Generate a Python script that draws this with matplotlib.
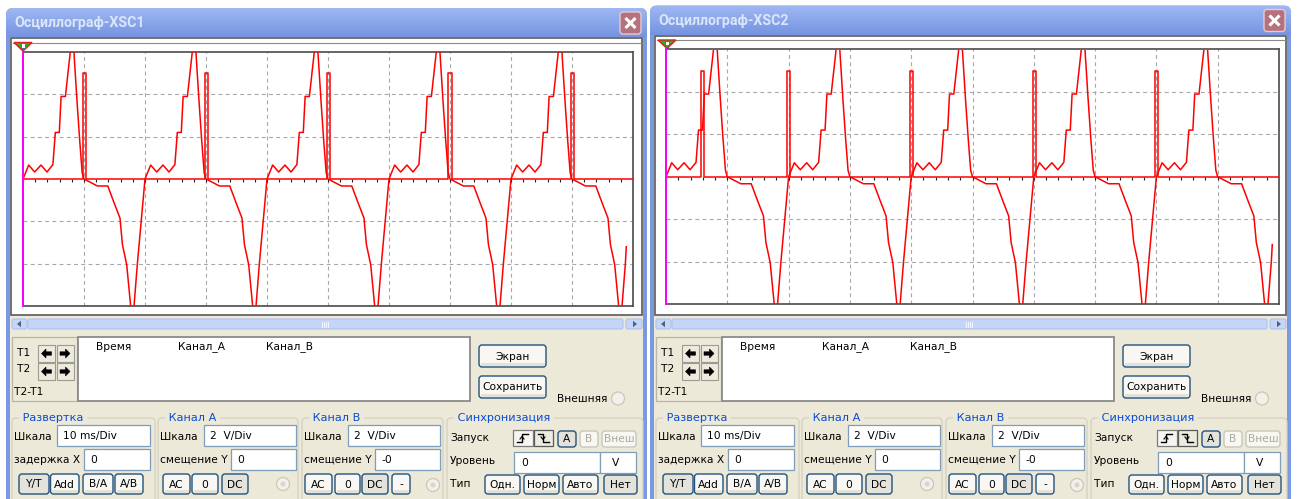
import numpy as np
import matplotlib
matplotlib.use("Agg")
import matplotlib.pyplot as plt
from matplotlib.patches import Rectangle, FancyBboxPatch, Circle, Polygon

# ---------------- data ----------------
# one 20 ms period of channel A (time in ms, voltage in V)
lobe_t = [0.0, 0.93, 1.91, 2.95, 3.93, 4.9, 5.3, 5.95, 6.25, 6.95, 7.75, 8.05, 8.35, 8.85, 9.3, 9.7,
          10.0, 12.2, 13.9, 14.9, 15.9, 16.3, 17.0, 17.65, 17.95, 18.2, 18.75]
lobe_v = [0.0, 0.66, 0.33, 0.66, 0.33, 0.68, 2.2, 2.2, 3.9, 3.9, 6.0, 7.0, 6.0, 3.7, 1.8, 0.3,
          0.0, -0.33, -0.33, -1.1, -1.85, -3.1, -4.05, -6.0, -6.8, -6.0, -4.0]
period_ms = 20.0
periods_shown = 5
trace_end_t = 98.9
trace_end_v = -3.2

# channel B pulses (ms) and level (V)
xsc1_pulse_on = [9.9, 29.8, 49.8, 69.7, 89.8]
xsc1_pulse_off = [10.4, 30.3, 50.3, 70.4, 90.4]
xsc2_pulse_on = [5.7, 19.8, 39.8, 59.8, 79.8]
xsc2_pulse_off = [6.2, 20.3, 40.3, 60.4, 80.3]
pulse_level = 5.0

titles = ["Осциллограф-XSC1", "Осциллограф-XSC2"]
readout_cols = ["Время", "Канал_A", "Канал_B"]
sweep_buttons = ["Y/T", "Add", "B/A", "A/B"]
chA_buttons = ["AC", "0", "DC"]
chB_buttons = ["AC", "0", "DC", "-"]
trig_src = ["A", "B", "Внеш"]
trig_type = ["Одн.", "Норм", "Авто", "Нет"]

# channel A trace built from the period read above
ta, va = [], []
for k in range(periods_shown):
    for t, v in zip(lobe_t, lobe_v):
        tt = t + k * period_ms
        if tt < trace_end_t:
            ta.append(tt)
            va.append(v)
ta.append(trace_end_t)
va.append(trace_end_v)

# ---------------- figure ----------------
W, H = 1301, 499
fig = plt.figure(figsize=(W / 100, H / 100), dpi=100)
fig.patch.set_facecolor("white")
bg = fig.add_axes([0, 0, 1, 1])
bg.set_xlim(0, W)
bg.set_ylim(H, 0)
bg.axis("off")

FONT = "DejaVu Sans"
FS = 7.7
BEIGE = "#ECE9D8"
FRAME = "#7B99E1"
BLUE_TXT = "#0A4BD6"


def R(x0, y0, x1, y1, fc="none", ec="none", lw=0.8, z=1, r=0):
    if r > 0:
        p = FancyBboxPatch((x0, y0), x1 - x0, y1 - y0,
                           boxstyle=f"round,pad=0,rounding_size={r}",
                           fc=fc, ec=ec, lw=lw, zorder=z)
    else:
        p = Rectangle((x0, y0), x1 - x0, y1 - y0, fc=fc, ec=ec, lw=lw, zorder=z)
    bg.add_patch(p)
    return p


def T(x, y, s, color="black", size=FS, ha="left", weight="normal", z=5, family=FONT, **kw):
    bg.text(x, y, s, color=color, fontsize=size, ha=ha, va="center",
            fontweight=weight, family=family, zorder=z, **kw)


def BTN(x0, y0, x1, y1, label, pressed=False, disabled=False, size=FS):
    ec = "#C9C7BA" if disabled else "#23527C"
    fc = "#E3E2DB" if pressed else "#F8F7F3"
    R(x0, y0, x1, y1, fc=fc, ec=ec, lw=1.0, z=3, r=3)
    if not pressed and not disabled:
        R(x0 + 1.5, y1 - 4, x1 - 1.5, y1 - 1.2, fc="#E4E2D6", z=3.1)
    T((x0 + x1) / 2, (y0 + y1) / 2 + 0.5, label,
      color="#ADAB9C" if disabled else "black", ha="center", size=size, z=4)


def TB(x0, y0, x1, y1, txt):
    R(x0, y0, x1, y1, fc="white", ec="#7F9DB9", lw=0.9, z=3)
    T(x0 + 6, (y0 + y1) / 2 + 0.5, txt, z=4)


def GROUP(x0, y0, x1, title):
    R(x0, y0, x1, 506, fc="none", ec="#D3D0C0", lw=0.9, z=2, r=4)
    T(x0 + 7, y0, " " + title + " ", color=BLUE_TXT, size=FS + 0.4, z=4,
      bbox=dict(fc=BEIGE, ec="none", pad=0.2))


def RADIO(cx, cy, dot=False):
    bg.add_patch(Circle((cx, cy), 6.5, fc="#F1F0EB", ec="#CBC8B8", lw=0.9, zorder=3))
    if dot:
        bg.add_patch(Circle((cx, cy), 2.5, fc="#D8D6CC", ec="none", zorder=3.1))


def ARROW(cx, cy, d):
    pts = [(cx + d * 5, cy), (cx + d * 0.5, cy - 4.5), (cx + d * 0.5, cy - 1.7),
           (cx - d * 5, cy - 1.7), (cx - d * 5, cy + 1.7), (cx + d * 0.5, cy + 1.7),
           (cx + d * 0.5, cy + 4.5)]
    bg.add_patch(Polygon(pts, closed=True, fc="black", ec="black", lw=0.4, zorder=5))


def draw_scope(box, pon, poff):
    x0, y0, x1, y1 = box
    ax = fig.add_axes([x0 / W, 1 - y1 / H, (x1 - x0) / W, (y1 - y0) / H])
    ax.set_xlim(0, 100)
    ax.set_ylim(-6, 6)
    ax.set_xticks([])
    ax.set_yticks([])
    ax.set_facecolor("white")
    for s in ax.spines.values():
        s.set_color("#4A4A4A")
        s.set_linewidth(1.2)
    for gx in range(10, 100, 10):
        ax.axvline(gx, color="#A8A8A8", lw=0.8, ls=(0, (3.5, 3)), zorder=1)
    for gy in (-4, -2, 2, 4):
        ax.axhline(gy, color="#A8A8A8", lw=0.8, ls=(0, (3.5, 3)), zorder=1)
    ax.vlines(np.arange(0, 101, 2), -0.15, -0.02, color="#202020", lw=0.8, zorder=2)
    tb, vb = [0.0], [0.0]
    for a, b in zip(pon, poff):
        tb += [a, a, b, b]
        vb += [0.0, pulse_level, pulse_level, 0.0]
    tb.append(100.0)
    vb.append(0.0)
    ax.plot(tb, vb, color="#FF0000", lw=1.1, zorder=4)
    ax.plot(ta, va, color="#FF0000", lw=1.1, zorder=4)
    ax.axvline(0, color="#FF00FF", lw=1.4, zorder=6, clip_on=False)
    return ax


def draw_window(dx, dyt, title, pon, pof):
    # outer frame
    frame = R(dx + 6, dyt + 8, dx + 647, 520, fc=FRAME, z=0.5, r=7)
    # title bar gradient
    top = np.array([0.62, 0.72, 0.95])
    bot = np.array([0.46, 0.58, 0.88])
    n = 30
    grad = np.array([top + (bot - top) * i / (n - 1) for i in range(n)]).reshape(n, 1, 3)
    im = bg.imshow(grad, extent=(dx + 6, dx + 647, dyt + 37, dyt + 8),
                   aspect="auto", zorder=0.6, interpolation="bilinear")
    im.set_clip_path(frame)
    T(dx + 14, dyt + 23, title, color="#DCE6FA", size=10.2, weight="bold", z=2,
      family="Roboto")
    # close button
    R(dx + 620, dyt + 12, dx + 641, dyt + 34, fc="#B5727E", ec="#E7C9CF", lw=1.0, z=2, r=3)
    cx, cy = dx + 630.5, dyt + 23
    bg.plot([cx - 5, cx + 5], [cy - 5, cy + 5], color="white", lw=2.2, zorder=3,
            solid_capstyle="butt")
    bg.plot([cx - 5, cx + 5], [cy + 5, cy - 5], color="white", lw=2.2, zorder=3,
            solid_capstyle="butt")
    # body
    R(dx + 10, dyt + 37, dx + 643, 520, fc=BEIGE, z=0.7)
    # screen
    R(dx + 11, dyt + 38, dx + 642, 315, fc="white", ec="#5A5A5A", lw=1.2, z=0.8)
    bg.plot([dx + 13, dx + 641], [dyt + 42.5, dyt + 42.5], color="#8A8A8A", lw=0.8, zorder=0.9)
    # trigger marker
    bg.add_patch(Polygon([(dx + 14, dyt + 42.5), (dx + 32, dyt + 42.5), (dx + 23, dyt + 51)],
                         closed=True, fc="#1FB51F", ec="#E02020", lw=1.0, zorder=1))
    R(dx + 21, dyt + 43, dx + 25, dyt + 47.5, fc="white", ec="#3050A0", lw=0.5, z=1.1)
    # scrollbar
    R(dx + 12, 319, dx + 27, 329, fc="#C7D5F7", ec="#AFC2EC", lw=0.8, z=2, r=2)
    bg.add_patch(Polygon([(dx + 17, 324), (dx + 21, 320.8), (dx + 21, 327.2)], closed=True,
                         fc="#4D6185", ec="none", zorder=3))
    R(dx + 28, 319, dx + 623, 329, fc="#C5D5FA", ec="#AFC2EC", lw=0.8, z=2, r=2)
    for gxx in (-3, -1, 1, 3):
        bg.plot([dx + 325 + gxx, dx + 325 + gxx], [321.5, 326.5], color="#EEF3FF", lw=0.8, zorder=3)
    R(dx + 626, 319, dx + 642, 329, fc="#C7D5F7", ec="#AFC2EC", lw=0.8, z=2, r=2)
    bg.add_patch(Polygon([(dx + 637, 324), (dx + 633, 320.8), (dx + 633, 327.2)], closed=True,
                         fc="#4D6185", ec="none", zorder=3))
    # T1/T2 panel
    R(dx + 12, 337, dx + 77, 401, fc=BEIGE, ec="#B9B6A6", lw=0.9, z=2)
    T(dx + 17, 353, "T1")
    T(dx + 17, 369.5, "T2")
    T(dx + 13.5, 392, "T2-T1")
    for (bx, by, d) in [(38, 345, -1), (56.5, 345, 1), (38, 363, -1), (56.5, 363, 1)]:
        R(dx + bx, by, dx + bx + 17, by + 17, fc="#EDEAE0", ec="#9E9B8D", lw=0.8, z=3)
        ARROW(dx + bx + 8.5, by + 8.5, d)
    # readout box
    R(dx + 78, 337, dx + 470, 401, fc="white", ec="#8A8A8A", lw=1.3, z=2)
    for lbl, xx in zip(readout_cols, (96, 178, 266)):
        T(dx + xx, 347, lbl)
    # Экран / Сохранить
    BTN(dx + 479, 345, dx + 546, 367, "Экран")
    BTN(dx + 479, 376, dx + 546, 398, "Сохранить")
    T(dx + 557, 398.5, "Внешняя")
    RADIO(dx + 618, 398.5)
    # group boxes
    GROUP(dx + 12, 418, dx + 155, "Развертка")
    GROUP(dx + 158, 418, dx + 298, "Канал A")
    GROUP(dx + 302, 418, dx + 443, "Канал B")
    GROUP(dx + 447, 418, dx + 643, "Синхронизация")
    # Развертка
    T(dx + 14, 437, "Шкала")
    TB(dx + 57, 425, dx + 150, 446, "10 ms/Div")
    T(dx + 14, 460, "задержка X")
    TB(dx + 84, 449, dx + 150, 470, "0")
    for lbl, (a, b) in zip(sweep_buttons, [(19, 49), (50.5, 79), (83, 113), (115, 143)]):
        BTN(dx + a, 474, dx + b, 494, lbl, pressed=(lbl == "Y/T"))
    # Канал A
    T(dx + 160, 437, "Шкала")
    TB(dx + 204, 425, dx + 296, 446, "2  V/Div")
    T(dx + 160, 460, "смещение Y")
    TB(dx + 231, 449, dx + 296, 470, "0")
    for lbl, (a, b) in zip(chA_buttons, [(163, 190), (192, 218), (222, 248)]):
        BTN(dx + a, 474, dx + b, 494, lbl, pressed=(lbl == "DC"))
    RADIO(dx + 283, 484, dot=True)
    # Канал B
    T(dx + 304, 437, "Шкала")
    TB(dx + 348, 425, dx + 440, 446, "2  V/Div")
    T(dx + 304, 460, "смещение Y")
    TB(dx + 375, 449, dx + 440, 470, "-0")
    for lbl, (a, b) in zip(chB_buttons, [(305, 332), (335, 360), (362, 388), (392, 410)]):
        BTN(dx + a, 474, dx + b, 494, lbl, pressed=(lbl == "DC"))
    RADIO(dx + 433, 485, dot=True)
    # Синхронизация
    T(dx + 450, 438, "Запуск")
    R(dx + 513, 430, dx + 533, 446, fc="#F6F5F1", ec="#7C7C7C", lw=0.9, z=3)
    R(dx + 534, 430, dx + 553, 446, fc="#EDEAE0", ec="#5A5A5A", lw=0.9, z=3)
    bg.plot([dx + 517, dx + 522, dx + 522, dx + 528], [442, 442, 434, 434], color="black", lw=1.0, zorder=4)
    bg.plot([dx + 520, dx + 522, dx + 524], [439, 436.5, 439], color="black", lw=0.8, zorder=4)
    bg.plot([dx + 538, dx + 543, dx + 543, dx + 549], [434, 434, 442, 442], color="black", lw=1.0, zorder=4)
    bg.plot([dx + 541, dx + 543, dx + 545], [437, 439.5, 437], color="black", lw=0.8, zorder=4)
    for lbl, (a, b) in zip(trig_src, [(558, 576), (580, 598), (602, 636)]):
        BTN(dx + a, 431, dx + b, 447, lbl, pressed=(lbl == "A"), disabled=(lbl != "A"))
    T(dx + 450, 461, "Уровень")
    R(dx + 514, 452, dx + 600, 473, fc="white", ec="#7F9DB9", lw=0.9, z=3)
    T(dx + 521, 463.5, "0", z=4)
    R(dx + 600, 452, dx + 636, 473, fc="white", ec="#7F9DB9", lw=0.9, z=3)
    T(dx + 612, 463, "V", z=4)
    T(dx + 450, 484, "Тип")
    for lbl, (a, b) in zip(trig_type, [(485, 520), (524, 559), (563, 598), (604, 637)]):
        BTN(dx + a, 475, dx + b, 494, lbl, pressed=(lbl == "Нет"))


draw_window(0, 0, titles[0], xsc1_pulse_on, xsc1_pulse_off)
draw_window(644, -2.5, titles[1], xsc2_pulse_on, xsc2_pulse_off)

bg.set_xlim(0, W)
bg.set_ylim(H, 0)

draw_scope((23, 52, 633, 306), xsc1_pulse_on, xsc1_pulse_off)
draw_scope((666, 49.5, 1279, 304), xsc2_pulse_on, xsc2_pulse_off)

fig.savefig("out.png", dpi=100, facecolor="white")
